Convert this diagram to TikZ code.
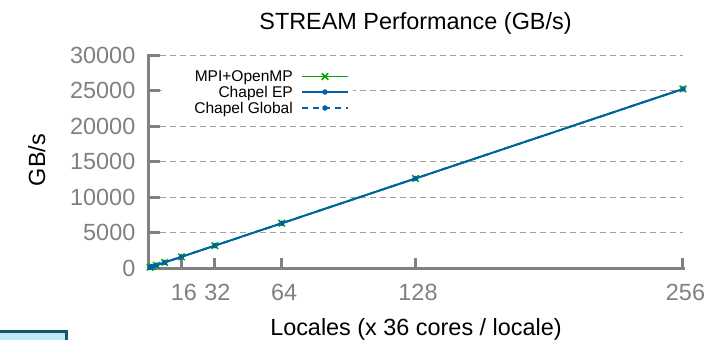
\documentclass[tikz,border=0pt]{standalone}
\usepackage{fontspec}
\setmainfont{Liberation Sans}
\usetikzlibrary{positioning, shapes.misc, calc}
\definecolor{axisgray}{HTML}{808080}
\definecolor{gridgray}{HTML}{A0A0A0}
\definecolor{mpigreen}{HTML}{00A800}
\definecolor{chplblue}{HTML}{0060AD}
\definecolor{tabfill}{HTML}{BEE8F5}
\definecolor{tabedge}{HTML}{1A5566}
\tikzstyle{axisline} = [line width=3bp, draw=axisgray]
\tikzstyle{gridline} = [line width=1bp, draw=gridgray, dash pattern=on 6bp off 4bp]
\tikzstyle{ticklabel} = [inner sep=0pt, text=axisgray, font=\fontsize{23.5}{28}\selectfont]
\tikzstyle{biglabel} = [inner sep=0pt, text=black, font=\fontsize{23.5}{28}\selectfont]
\tikzstyle{leglabel} = [inner sep=0pt, anchor=base east, font=\fontsize{15.6}{18}\selectfont]
\tikzstyle{mpiline} = [line width=1.8bp, draw=mpigreen]
\tikzstyle{epline} = [line width=1.8bp, draw=chplblue]
\tikzstyle{globline} = [line width=1.8bp, draw=chplblue, dash pattern=on 6bp off 5bp]
\tikzstyle{mpimark} = [cross out, draw=mpigreen, line width=1.5bp, minimum size=5bp, inner sep=0pt]
\tikzstyle{chplmark} = [circle, fill=chplblue, minimum size=5.5bp, inner sep=0pt]

\begin{document}
\begin{tikzpicture}[x=1bp, y=-1bp]
    \useasboundingbox (0,0) rectangle (710,339);
    %title and axis labels
    \node (title) [biglabel, anchor=base] at (415.5,29) {STREAM Performance (GB/s)};
    \node (ylab) [biglabel, anchor=base, rotate=90] at (45,160) {GB/s};
    \node (xlab) [biglabel, anchor=base] at (416,335) {Locales (x 36 cores / locale)};
    %grid and y ticks (in thousands)
    \foreach \v in {0,5,...,30} {
        \pgfmathsetmacro\gy{268-7.1*\v}
        \ifnum\v>0 \draw [gridline] (160,\gy) -- (683,\gy); \fi
        \draw [axisline] (148,\gy) -- (160,\gy);
        \node (yt\v) [ticklabel, anchor=east] at (135.5,\gy) {\ifnum\v>0 \v000\else 0\fi};
    }
    %legend background
    \fill [white] (162,62) rectangle (353,118);
    %x ticks
    \foreach \n in {16,32,64,128,256} {
        \pgfmathsetmacro\gx{148+2.0898*\n}
        \draw [axisline] (\gx,268) -- (\gx,258);
        \node (xt\n) [ticklabel, anchor=base] at (\gx+2.5,300) {\n};
    }
    \draw [axisline] (148,54) -- (148,268) -- (684.5,268);
    %data points
    \foreach \n [evaluate=\n as \px using 148+2.0898*\n,
                 evaluate=\n as \py using 268-0.6994*\n] in {1,2,4,8,16,32,64,128,256}
        \coordinate (d\n) at (\px,\py);
    \draw [mpiline] (d1) -- (d2) -- (d4) -- (d8) -- (d16) -- (d32) -- (d64) -- (d128) -- (d256);
    \foreach \n in {1,2,4,8,16,32,64,128,256}
        \node [mpimark] at (d\n) {};
    \draw [epline] (d1) -- (d2) -- (d4) -- (d8) -- (d16) -- (d32) -- (d64) -- (d128) -- (d256);
    \draw [globline] (d1) -- (d2) -- (d4) -- (d8) -- (d16) -- (d32) -- (d64) -- (d128) -- (d256);
    \foreach \n in {1,2,4,8,16,32,64,128,256}
        \node [chplmark] at (d\n) {};
    %legend
    \node (legmpi) [leglabel] at (293,81.8) {MPI+OpenMP};
    \node (legep) [leglabel] at (293,97.3) {Chapel EP};
    \node (legglob) [leglabel] at (293,113.3) {Chapel Global};
    \coordinate (mpiA) at (302,76.5);  \coordinate (mpiB) at (348,76.5);
    \coordinate (epA) at (302,92);     \coordinate (epB) at (348,92);
    \coordinate (globA) at (302,108);  \coordinate (globB) at (348,108);
    \draw [mpiline] (mpiA) -- (mpiB);
    \node [mpimark] at ($(mpiA)!0.5!(mpiB)$) {};
    \draw [epline] (epA) -- (epB);
    \node [chplmark] at ($(epA)!0.5!(epB)$) {};
    \draw [globline] (globA) -- (globB);
    \node [chplmark] at ($(globA)!0.5!(globB)$) {};
    %cut-off box at the bottom left
    \begin{scope}
        \clip (0,0) rectangle (710,339);
        \draw [line width=3bp, draw=tabedge, fill=tabfill] (-10,331) rectangle (66,360);
    \end{scope}
\end{tikzpicture}
\end{document}
